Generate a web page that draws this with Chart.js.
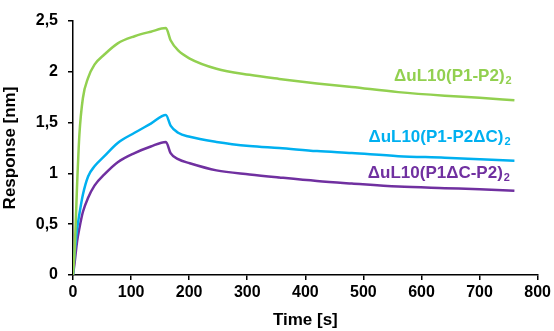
<!DOCTYPE html>
<html>
<head>
<meta charset="utf-8">
<script src="https://cdn.jsdelivr.net/npm/chart.js@4.4.0/dist/chart.umd.min.js"></script>
<style>
  html, body { margin: 0; padding: 0; background: #fff; }
  #wrap { width: 554px; height: 331px; }
</style>
</head>
<body>
<div id="wrap"><canvas id="chart"></canvas></div>
<script>
// Zaman noktaları [s]
const timePoints = [0, 3, 7, 11, 17, 26, 37, 54, 77, 106, 134, 160,
    168, 181, 201, 247, 304, 355, 420, 480, 560, 640, 700, 760];

// Seriler [nm]
const seriesP1P2 = [0, 0.26, 0.88, 1.38, 1.74, 1.94, 2.07, 2.17, 2.28, 2.35, 2.395, 2.43,
    2.31, 2.21, 2.13, 2.03, 1.97, 1.93, 1.885, 1.85, 1.80, 1.765, 1.745, 1.72];
const seriesP1P2dC = [0, 0.23, 0.45, 0.60, 0.79, 0.97, 1.07, 1.17, 1.30, 1.40, 1.49, 1.575,
    1.47, 1.40, 1.36, 1.31, 1.27, 1.25, 1.22, 1.20, 1.17, 1.155, 1.14, 1.125];
const seriesP1dCP2 = [0, 0.13, 0.33, 0.46, 0.62, 0.76, 0.88, 0.99, 1.11, 1.20, 1.265, 1.31,
    1.20, 1.14, 1.10, 1.03, 0.99, 0.96, 0.925, 0.90, 0.87, 0.855, 0.845, 0.83];

const seriesNames = ['\u0394uL10(P1-P2)', '\u0394uL10(P1-P2\u0394C)', '\u0394uL10(P1\u0394C-P2)'];
const seriesColors = ['#92d050', '#00b0f0', '#7030a0'];

const xTicks = [0, 100, 200, 300, 400, 500, 600, 700, 800];
const yTicks = [0, 0.5, 1, 1.5, 2, 2.5];

function toPoints(values) {
    return timePoints.map((t, i) => ({ x: t, y: values[i] }));
}

// Seri etiketleri (sağa hizalı, alt indisli)
const labelPlugin = {
    id: 'seriesLabels',
    afterDatasetsDraw(chart) {
        const ctx = chart.ctx;
        const xs = chart.scales.x, ys = chart.scales.y;
        const anchors = [[743, 1.91], [741, 1.31], [740, 0.955]];
        ctx.save();
        seriesNames.forEach((name, i) => {
            const px = xs.getPixelForValue(anchors[i][0]);
            const py = ys.getPixelForValue(anchors[i][1]);
            ctx.fillStyle = seriesColors[i];
            ctx.textBaseline = 'alphabetic';
            ctx.font = 'bold 17px "Liberation Sans", Arial, sans-serif';
            ctx.textAlign = 'right';
            ctx.fillText(name, px, py);
            ctx.font = 'bold 11px "Liberation Sans", Arial, sans-serif';
            ctx.textAlign = 'left';
            ctx.fillText('2', px + 1, py + 3);
        });
        ctx.restore();
    }
};

const tickFont = { family: '"Liberation Sans", Arial, sans-serif', size: 16, weight: 'bold' };
const titleFont = { family: '"Liberation Sans", Arial, sans-serif', size: 17, weight: 'bold' };

new Chart(document.getElementById('chart'), {
    type: 'line',
    data: {
        datasets: [seriesP1P2, seriesP1P2dC, seriesP1dCP2].map((vals, i) => ({
            label: seriesNames[i],
            data: toPoints(vals),
            borderColor: seriesColors[i],
            borderWidth: 2.5,
            pointRadius: 0,
            fill: false,
            cubicInterpolationMode: 'monotone'
        }))
    },
    options: {
        responsive: true,
        maintainAspectRatio: false,
        animation: false,
        layout: { padding: { top: 21, right: 15, left: 0, bottom: 0 } },
        plugins: {
            legend: { display: false },
            tooltip: { enabled: false }
        },
        scales: {
            x: {
                type: 'linear',
                min: 0,
                max: 800,
                afterBuildTicks: (scale) => { scale.ticks = xTicks.map(v => ({ value: v })); },
                afterFit: (scale) => { scale.height = 56; },
                ticks: { color: '#000', font: tickFont, padding: 3 },
                grid: { display: true, drawOnChartArea: false, drawTicks: true, tickLength: 5, color: '#000', lineWidth: 1.5 },
                border: { color: '#000', width: 1.5 },
                title: { display: true, text: 'Time [s]', color: '#000', font: titleFont, padding: { top: 0, bottom: 0 } }
            },
            y: {
                min: 0,
                max: 2.5,
                afterBuildTicks: (scale) => { scale.ticks = yTicks.map(v => ({ value: v })); },
                afterFit: (scale) => { scale.width = 73; },
                ticks: {
                    color: '#000',
                    font: tickFont,
                    padding: 10,
                    callback: (v) => String(v).replace('.', ',')
                },
                grid: { display: true, drawOnChartArea: false, drawTicks: true, tickLength: 5, color: '#000', lineWidth: 1.5 },
                border: { color: '#000', width: 1.5 },
                title: { display: true, text: 'Response [nm]', color: '#000', font: titleFont, padding: { top: 0, bottom: 4 } }
            }
        }
    },
    plugins: [labelPlugin]
});
</script>
</body>
</html>
